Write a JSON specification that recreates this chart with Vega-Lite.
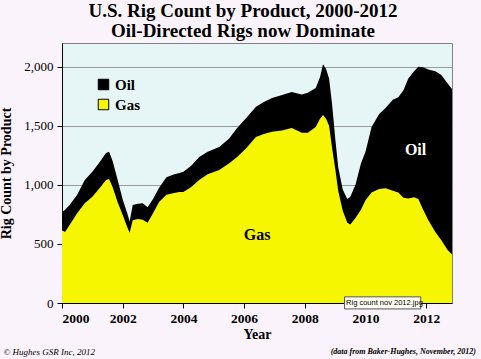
{
  "$schema": "https://vega.github.io/schema/vega-lite/v6.json",
  "width": 390,
  "height": 260,
  "autosize": {"type": "none"},
  "padding": {"left": 62, "top": 43, "right": 29, "bottom": 56},
  "background": "#fbf3fb",
  "config": {
    "font": "Liberation Serif",
    "view": {"fill": "#e6f6f6", "stroke": "#808080", "strokeWidth": 1}
  },
  "title": {
    "text": ["U.S. Rig Count by Product, 2000-2012", "Oil-Directed Rigs now Dominate"],
    "font": "Liberation Serif",
    "fontSize": 19,
    "fontWeight": "bold",
    "color": "#000000",
    "anchor": "middle",
    "dx": -14,
    "offset": 2,
    "lineHeight": 20
  },
  "resolve": {"scale": {"color": "independent"}},
  "datasets": {
    "rigs": [
      {"year": 2000.0, "gas": 615, "oil": 155},
      {"year": 2000.1, "gas": 600, "oil": 190},
      {"year": 2000.25, "gas": 660, "oil": 170},
      {"year": 2000.5, "gas": 760, "oil": 155},
      {"year": 2000.75, "gas": 845, "oil": 195},
      {"year": 2001.0, "gas": 900, "oil": 210},
      {"year": 2001.25, "gas": 975, "oil": 220},
      {"year": 2001.45, "gas": 1040, "oil": 230},
      {"year": 2001.55, "gas": 1050, "oil": 230},
      {"year": 2001.67, "gas": 980, "oil": 220},
      {"year": 2001.83, "gas": 855, "oil": 190},
      {"year": 2002.0, "gas": 745, "oil": 130},
      {"year": 2002.15, "gas": 640, "oil": 120},
      {"year": 2002.23, "gas": 595, "oil": 95},
      {"year": 2002.33, "gas": 700, "oil": 130},
      {"year": 2002.5, "gas": 710, "oil": 130},
      {"year": 2002.66, "gas": 705, "oil": 140},
      {"year": 2002.82, "gas": 680, "oil": 130},
      {"year": 2003.0, "gas": 760, "oil": 120},
      {"year": 2003.2, "gas": 855, "oil": 120},
      {"year": 2003.44, "gas": 915, "oil": 150},
      {"year": 2003.7, "gas": 930, "oil": 160},
      {"year": 2003.87, "gas": 940, "oil": 160},
      {"year": 2004.0, "gas": 940, "oil": 170},
      {"year": 2004.25, "gas": 980, "oil": 180},
      {"year": 2004.52, "gas": 1040, "oil": 195},
      {"year": 2004.8, "gas": 1090, "oil": 190},
      {"year": 2005.18, "gas": 1125, "oil": 195},
      {"year": 2005.5, "gas": 1180, "oil": 210},
      {"year": 2005.77, "gas": 1235, "oil": 245},
      {"year": 2006.07, "gas": 1310, "oil": 255},
      {"year": 2006.39, "gas": 1405, "oil": 255},
      {"year": 2006.65, "gas": 1430, "oil": 270},
      {"year": 2006.92, "gas": 1450, "oil": 285},
      {"year": 2007.25, "gas": 1460, "oil": 300},
      {"year": 2007.57, "gas": 1480, "oil": 305},
      {"year": 2007.9, "gas": 1440, "oil": 325},
      {"year": 2008.1, "gas": 1440, "oil": 340},
      {"year": 2008.36, "gas": 1490, "oil": 330},
      {"year": 2008.5, "gas": 1560, "oil": 350},
      {"year": 2008.6, "gas": 1590, "oil": 430},
      {"year": 2008.7, "gas": 1560, "oil": 420},
      {"year": 2008.8, "gas": 1500, "oil": 400},
      {"year": 2008.9, "gas": 1310, "oil": 370},
      {"year": 2009.0, "gas": 1140, "oil": 260},
      {"year": 2009.1, "gas": 950, "oil": 200},
      {"year": 2009.25, "gas": 780, "oil": 180},
      {"year": 2009.4, "gas": 680, "oil": 200},
      {"year": 2009.5, "gas": 665, "oil": 235},
      {"year": 2009.67, "gas": 720, "oil": 280},
      {"year": 2009.85, "gas": 790, "oil": 390},
      {"year": 2010.0, "gas": 870, "oil": 410},
      {"year": 2010.2, "gas": 935, "oil": 555},
      {"year": 2010.45, "gas": 965, "oil": 635},
      {"year": 2010.66, "gas": 970, "oil": 680},
      {"year": 2010.9, "gas": 950, "oil": 770},
      {"year": 2011.08, "gas": 935, "oil": 805},
      {"year": 2011.25, "gas": 890, "oil": 910},
      {"year": 2011.41, "gas": 885, "oil": 1015},
      {"year": 2011.6, "gas": 895, "oil": 1065},
      {"year": 2011.74, "gas": 880, "oil": 1120},
      {"year": 2011.9, "gas": 790, "oil": 1205},
      {"year": 2012.07, "gas": 700, "oil": 1275},
      {"year": 2012.3, "gas": 600, "oil": 1360},
      {"year": 2012.5, "gas": 530, "oil": 1400},
      {"year": 2012.7, "gas": 450, "oil": 1410},
      {"year": 2012.85, "gas": 410, "oil": 1400}
    ],
    "labels": [
      {"year": 2011.65, "value": 1297, "label": "Oil"},
      {"year": 2006.43, "value": 576, "label": "Gas"}
    ],
    "footerLeft": [
      {"year": 1998.07, "value": -415, "label": "©  Hughes GSR Inc, 2012"}
    ],
    "footerRight": [
      {"year": 2013.64, "value": -415, "label": "(data from Baker-Hughes, November, 2012)"}
    ],
    "tip": [
      {"x1": 2009.31, "x2": 2011.82, "y1": -50, "y2": 52, "xm": 2009.36, "ym": 0, "label": "Rig count nov 2012.jpg"}
    ]
  },
  "layer": [
    {
      "data": {"name": "rigs"},
      "transform": [
        {"fold": ["gas", "oil"], "as": ["key", "count"]},
        {"lookup": "key", "from": {"data": {"values": [{"key": "gas", "product": "Gas"}, {"key": "oil", "product": "Oil"}]}, "key": "key", "fields": ["product"]}}
      ],
      "mark": {"type": "area", "interpolate": "linear"},
      "encoding": {
        "x": {
          "field": "year", "type": "quantitative",
          "scale": {"domain": [2000, 2012.85], "nice": false, "zero": false},
          "axis": {
            "title": "Year",
            "values": [2000, 2002, 2004, 2006, 2008, 2010, 2012],
            "format": "d",
            "grid": false,
            "domainColor": "#000000",
            "tickColor": "#000000",
            "tickSize": 5,
            "labelFont": "Liberation Serif",
            "labelFontSize": 13.5,
            "labelFontWeight": "bold",
            "labelColor": "#000000",
            "labelPadding": 3,
            "titleFont": "Liberation Serif",
            "titleFontSize": 14,
            "titleFontWeight": "bold",
            "titleColor": "#000000",
            "titlePadding": 3
          }
        },
        "y": {
          "field": "count", "type": "quantitative", "stack": "zero",
          "scale": {"domain": [0, 2200], "nice": false},
          "axis": {
            "title": "Rig Count by Product",
            "values": [0, 500, 1000, 1500, 2000],
            "format": ",d",
            "grid": true,
            "gridColor": "#9a9a9a",
            "gridWidth": 1,
            "domainColor": "#000000",
            "tickColor": "#000000",
            "tickSize": 5,
            "labelFont": "Liberation Serif",
            "labelFontSize": 13,
            "labelColor": "#000000",
            "labelPadding": 4,
            "titleFont": "Liberation Serif",
            "titleFontSize": 14,
            "titleFontWeight": "bold",
            "titleColor": "#000000",
            "titlePadding": 10
          }
        },
        "color": {
          "field": "product", "type": "nominal",
          "scale": {"domain": ["Oil", "Gas"], "range": ["#000000", "#f6f600"]},
          "legend": {
            "title": null,
            "orient": "none",
            "legendX": 34,
            "legendY": 34,
            "symbolType": "square",
            "symbolSize": 110,
            "symbolStrokeColor": "#000000",
            "symbolStrokeWidth": 1,
            "symbolOpacity": 1,
            "labelFont": "Liberation Serif",
            "labelFontSize": 15,
            "labelFontWeight": "bold",
            "labelColor": "#000000",
            "rowPadding": 4
          }
        },
        "order": {"field": "key", "sort": "ascending"}
      }
    },
    {
      "data": {"name": "labels"},
      "mark": {"type": "text", "font": "Liberation Serif", "fontSize": 16, "fontWeight": "bold", "align": "center", "baseline": "middle"},
      "encoding": {
        "x": {"field": "year", "type": "quantitative"},
        "y": {"field": "value", "type": "quantitative"},
        "text": {"field": "label"},
        "color": {"field": "label", "type": "nominal", "scale": {"domain": ["Oil", "Gas"], "range": ["#ffffff", "#000000"]}, "legend": null}
      }
    },
    {
      "data": {"name": "footerLeft"},
      "mark": {"type": "text", "font": "Liberation Serif", "fontSize": 9, "fontStyle": "italic", "align": "left", "baseline": "middle", "color": "#000000"},
      "encoding": {
        "x": {"field": "year", "type": "quantitative"},
        "y": {"field": "value", "type": "quantitative"},
        "text": {"field": "label"}
      }
    },
    {
      "data": {"name": "footerRight"},
      "mark": {"type": "text", "font": "Liberation Serif", "fontSize": 8, "fontStyle": "italic", "fontWeight": "bold", "align": "right", "baseline": "middle", "color": "#000000"},
      "encoding": {
        "x": {"field": "year", "type": "quantitative"},
        "y": {"field": "value", "type": "quantitative"},
        "text": {"field": "label"}
      }
    },
    {
      "data": {"name": "tip"},
      "mark": {"type": "rect", "fill": "#fffff4", "stroke": "#555555", "strokeWidth": 1},
      "encoding": {
        "x": {"field": "x1", "type": "quantitative"},
        "x2": {"field": "x2"},
        "y": {"field": "y1", "type": "quantitative"},
        "y2": {"field": "y2"}
      }
    },
    {
      "data": {"name": "tip"},
      "mark": {"type": "text", "font": "Liberation Sans", "fontSize": 7.5, "align": "left", "baseline": "middle", "color": "#000000"},
      "encoding": {
        "x": {"field": "xm", "type": "quantitative"},
        "y": {"field": "ym", "type": "quantitative"},
        "text": {"field": "label"}
      }
    }
  ]
}
